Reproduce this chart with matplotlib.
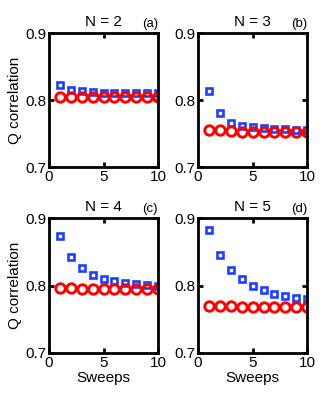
import numpy as np
import matplotlib
matplotlib.use("Agg")
import matplotlib.pyplot as plt

plt.rcParams['font.family'] = ['Liberation Sans', 'DejaVu Sans']

sweeps = np.arange(1, 11)

blue_a = [0.822, 0.815, 0.8135, 0.812, 0.811, 0.8105, 0.810, 0.810, 0.810, 0.810]
red_a = [0.805, 0.805, 0.805, 0.804, 0.805, 0.804, 0.804, 0.804, 0.804, 0.804]
blue_b = [0.814, 0.780, 0.766, 0.7615, 0.759, 0.7585, 0.757, 0.7565, 0.756, 0.755]
red_b = [0.755, 0.755, 0.754, 0.753, 0.7525, 0.753, 0.7525, 0.7525, 0.7525, 0.7525]
blue_c = [0.874, 0.842, 0.826, 0.815, 0.8096, 0.8067, 0.804, 0.802, 0.8007, 0.7988]
red_c = [0.797, 0.797, 0.795, 0.795, 0.795, 0.795, 0.795, 0.795, 0.795, 0.795]
blue_d = [0.8817, 0.8447, 0.8235, 0.8096, 0.7988, 0.7933, 0.7874, 0.784, 0.781, 0.780]
red_d = [0.770, 0.770, 0.769, 0.7685, 0.7685, 0.7685, 0.7685, 0.7685, 0.7685, 0.768]

titles = ['N = 2', 'N = 3', 'N = 4', 'N = 5']
tags = ['(a)', '(b)', '(c)', '(d)']
blues = [blue_a, blue_b, blue_c, blue_d]
reds = [red_a, red_b, red_c, red_d]

fig = plt.figure(figsize=(3.22, 3.93), dpi=100)
pos = [[0.152, 0.575, 0.339, 0.341], [0.615, 0.575, 0.339, 0.341],
       [0.152, 0.102, 0.339, 0.343], [0.615, 0.102, 0.339, 0.343]]

for i in range(4):
    ax = fig.add_axes(pos[i])
    ax.plot(sweeps, blues[i], 's', ms=4.5, mfc='none', mec='#1f3fff', mew=1.9)
    ax.plot(sweeps, reds[i], 'o', ms=6.8, mfc='none', mec='#ff0000', mew=2.1)
    ax.set_xlim(0, 10)
    ax.set_ylim(0.7, 0.9)
    ax.set_xticks([0, 5, 10])
    ax.set_yticks([0.7, 0.8, 0.9])
    ax.set_yticklabels(['0.7', '0.8', '0.9'])
    ax.tick_params(direction='in', top=True, right=True, labelsize=11,
                   width=2, length=3.5, pad=2)
    for s in ax.spines.values():
        s.set_linewidth(2)
    ax.set_title(titles[i], fontsize=11, pad=5)
    ax.text(1.0, 1.02, tags[i], transform=ax.transAxes, ha='right',
            va='bottom', fontsize=9.5)
    if i % 2 == 0:
        ax.set_ylabel('Q correlation', fontsize=11, labelpad=2)
    if i >= 2:
        ax.set_xlabel('Sweeps', fontsize=11, labelpad=1)

fig.savefig('out.png', dpi=100)
